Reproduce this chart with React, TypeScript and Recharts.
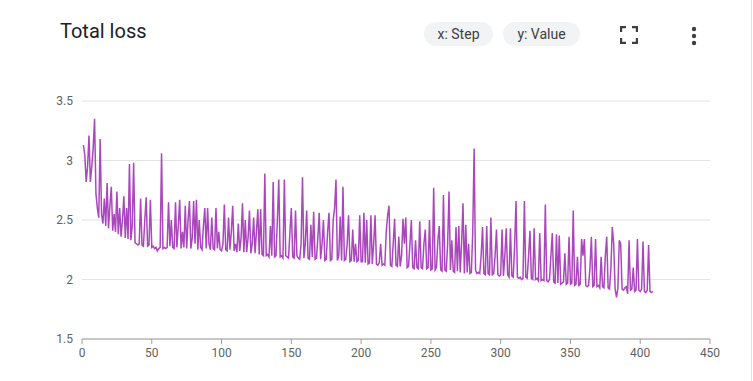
import { LineChart, Line, XAxis, YAxis, CartesianGrid } from 'recharts'

const yTicks = [1.5, 2, 2.5, 3, 3.5]
const xTicks = [0, 50, 100, 150, 200, 250, 300, 350, 400, 450]

// loss, one value per step starting at step 1
const loss = [
  3.13, 3.05, 2.82, 2.95, 3.21, 2.82, 2.95, 3.1, 3.35, 2.72,
  2.6, 2.52, 3.18, 2.55, 2.47, 2.68, 2.45, 2.81, 2.43, 2.62,
  2.78, 2.41, 2.55, 2.4, 2.74, 2.38, 2.6, 2.36, 2.5, 2.7,
  2.35, 2.6, 2.34, 2.97, 2.33, 2.45, 2.98, 2.31, 2.3, 2.29,
  2.3, 2.68, 2.29, 2.28, 2.5, 2.69, 2.28, 2.29, 2.67, 2.27,
  2.28, 2.26, 2.27, 2.24, 2.26, 2.27, 3.06, 2.26, 2.27, 2.26,
  2.27, 2.65, 2.28, 2.5, 2.27, 2.26, 2.65, 2.27, 2.45, 2.67,
  2.26, 2.4, 2.27, 2.62, 2.26, 2.5, 2.66, 2.26, 2.35, 2.66,
  2.3, 2.67, 2.25, 2.5, 2.27, 2.25, 2.45, 2.6, 2.26, 2.6,
  2.3, 2.25, 2.52, 2.26, 2.25, 2.6, 2.26, 2.4, 2.25, 2.24,
  2.3, 2.63, 2.25, 2.24, 2.52, 2.25, 2.4, 2.62, 2.24, 2.3,
  2.23, 2.47, 2.24, 2.35, 2.64, 2.23, 2.5, 2.23, 2.35, 2.58,
  2.22, 2.3, 2.52, 2.22, 2.4, 2.59, 2.21, 2.59, 2.21, 2.2,
  2.89, 2.2, 2.21, 2.19, 2.45, 2.2, 2.82, 2.19, 2.2, 2.5,
  2.84, 2.19, 2.2, 2.18, 2.84, 2.2, 2.19, 2.18, 2.4, 2.6,
  2.19, 2.18, 2.58, 2.2, 2.18, 2.17, 2.3, 2.86, 2.18, 2.3,
  2.58, 2.18, 2.17, 2.46, 2.19, 2.57, 2.17, 2.18, 2.35, 2.56,
  2.17, 2.3, 2.5, 2.16, 2.17, 2.4, 2.56, 2.16, 2.17, 2.5,
  2.6, 2.84, 2.16, 2.2, 2.53, 2.16, 2.78, 2.16, 2.17, 2.3,
  2.54, 2.15, 2.16, 2.42, 2.15, 2.3, 2.15, 2.16, 2.54, 2.15,
  2.15, 2.56, 2.14, 2.5, 2.13, 2.14, 2.54, 2.13, 2.3, 2.54,
  2.13, 2.12, 2.14, 2.3, 2.12, 2.13, 2.12, 2.4, 2.54, 2.62,
  2.12, 2.11, 2.3, 2.51, 2.12, 2.11, 2.36, 2.11, 2.2, 2.51,
  2.3, 2.52, 2.1, 2.11, 2.3, 2.5, 2.1, 2.09, 2.33, 2.1,
  2.09, 2.49, 2.1, 2.09, 2.3, 2.42, 2.09, 2.1, 2.5, 2.08,
  2.09, 2.77, 2.08, 2.1, 2.33, 2.45, 2.08, 2.07, 2.71, 2.08,
  2.07, 2.3, 2.74, 2.08, 2.33, 2.07, 2.06, 2.44, 2.07, 2.45,
  2.06, 2.3, 2.64, 2.05, 2.46, 2.06, 2.3, 2.05, 2.06, 2.4,
  3.1, 2.08, 2.05, 2.06, 2.05, 2.2, 2.44, 2.05, 2.04, 2.45,
  2.05, 2.04, 2.52, 2.04, 2.05, 2.2, 2.42, 2.04, 2.03, 2.04,
  2.42, 2.03, 2.2, 2.43, 2.04, 2.02, 2.43, 2.03, 2.02, 2.28,
  2.66, 2.02, 2.01, 2.02, 2.0, 2.01, 2.66, 2.02, 2.01, 2.2,
  2.41, 2.01, 2.0, 2.43, 2.0, 2.01, 1.99, 2.39, 1.99, 2.0,
  1.99, 2.63, 1.99, 1.98, 2.0, 2.2, 2.39, 1.98, 1.97, 2.38,
  1.97, 2.37, 1.96, 1.97, 1.98, 2.22, 1.96, 1.97, 2.36, 1.96,
  1.97, 2.58, 1.95, 1.96, 2.19, 1.95, 1.96, 2.34, 2.2, 2.34,
  1.95, 1.94, 1.95, 2.1, 2.36, 1.94, 1.95, 2.34, 1.94, 1.95,
  1.93, 2.19, 1.94, 1.93, 2.2, 2.36, 1.93, 1.92, 2.1, 2.44,
  2.3, 1.92, 1.85, 1.93, 2.33, 2.3, 1.92, 1.91, 1.93, 1.94,
  1.88, 2.33, 1.91, 1.92, 2.1, 1.9, 1.91, 2.34, 1.91, 1.9,
  1.92, 2.32, 1.9, 1.89, 1.91, 2.29, 1.9, 1.89, 1.9,
]

const data = loss.map((value, i) => ({ step: i + 1, value }))

const font = 'Roboto, "Noto Sans", sans-serif'

function Chip({ left, width, label }: { left: number; width: number; label: string }) {
  return (
    <div
      style={{
        position: 'absolute',
        left,
        top: 22,
        width,
        height: 24,
        borderRadius: 12,
        background: '#f1f3f4',
        color: '#3c4043',
        fontSize: 14,
        lineHeight: '24px',
        textAlign: 'center',
      }}
    >
      {label}
    </div>
  )
}

export default function App() {
  return (
    <div
      style={{
        position: 'absolute',
        left: 0,
        top: 0,
        width: 753,
        height: 381,
        background: '#fff',
        fontFamily: font,
        overflow: 'hidden',
      }}
    >
      <div style={{ position: 'absolute', right: 1, top: 0, width: 1, height: 381, background: '#e0e0e0' }} />
      <div style={{ position: 'absolute', left: 60, top: 19, fontSize: 20, color: '#202124' }}>Total loss</div>
      <Chip left={424} width={69} label="x: Step" />
      <Chip left={503} width={77} label="y: Value" />
      <svg style={{ position: 'absolute', left: 620, top: 26 }} width={18} height={18} viewBox="0 0 18 18">
        <path
          d="M1 6V1h5M12 1h5v5M17 12v5h-5M6 17H1v-5"
          fill="none"
          stroke="#3c4043"
          strokeWidth={2.4}
        />
      </svg>
      <svg style={{ position: 'absolute', left: 690, top: 26 }} width={8} height={20}>
        <circle cx={4} cy={3} r={2.2} fill="#3c4043" />
        <circle cx={4} cy={10} r={2.2} fill="#3c4043" />
        <circle cx={4} cy={17} r={2.2} fill="#3c4043" />
      </svg>
      <div style={{ position: 'absolute', left: 0, top: 0 }}>
        <LineChart width={753} height={381} data={data} margin={{ top: 101, right: 43, left: 42, bottom: 12 }}>
          <CartesianGrid vertical={false} stroke="#e3e3e3" />
          <XAxis
            dataKey="step"
            type="number"
            domain={[0, 450]}
            ticks={xTicks}
            height={30}
            tickSize={5}
            tickMargin={4}
            stroke="#9e9e9e"
            tick={{ fill: '#616161', fontSize: 12, fontFamily: font }}
          />
          <YAxis
            type="number"
            domain={[1.5, 3.5]}
            ticks={yTicks}
            width={40}
            axisLine={false}
            tickLine={false}
            tickSize={0}
            tickMargin={9}
            tick={{ fill: '#616161', fontSize: 12, fontFamily: font }}
          />
          <Line
            dataKey="value"
            type="linear"
            stroke="#ab47bc"
            strokeWidth={1.5}
            dot={false}
            isAnimationActive={false}
          />
        </LineChart>
      </div>
    </div>
  )
}
